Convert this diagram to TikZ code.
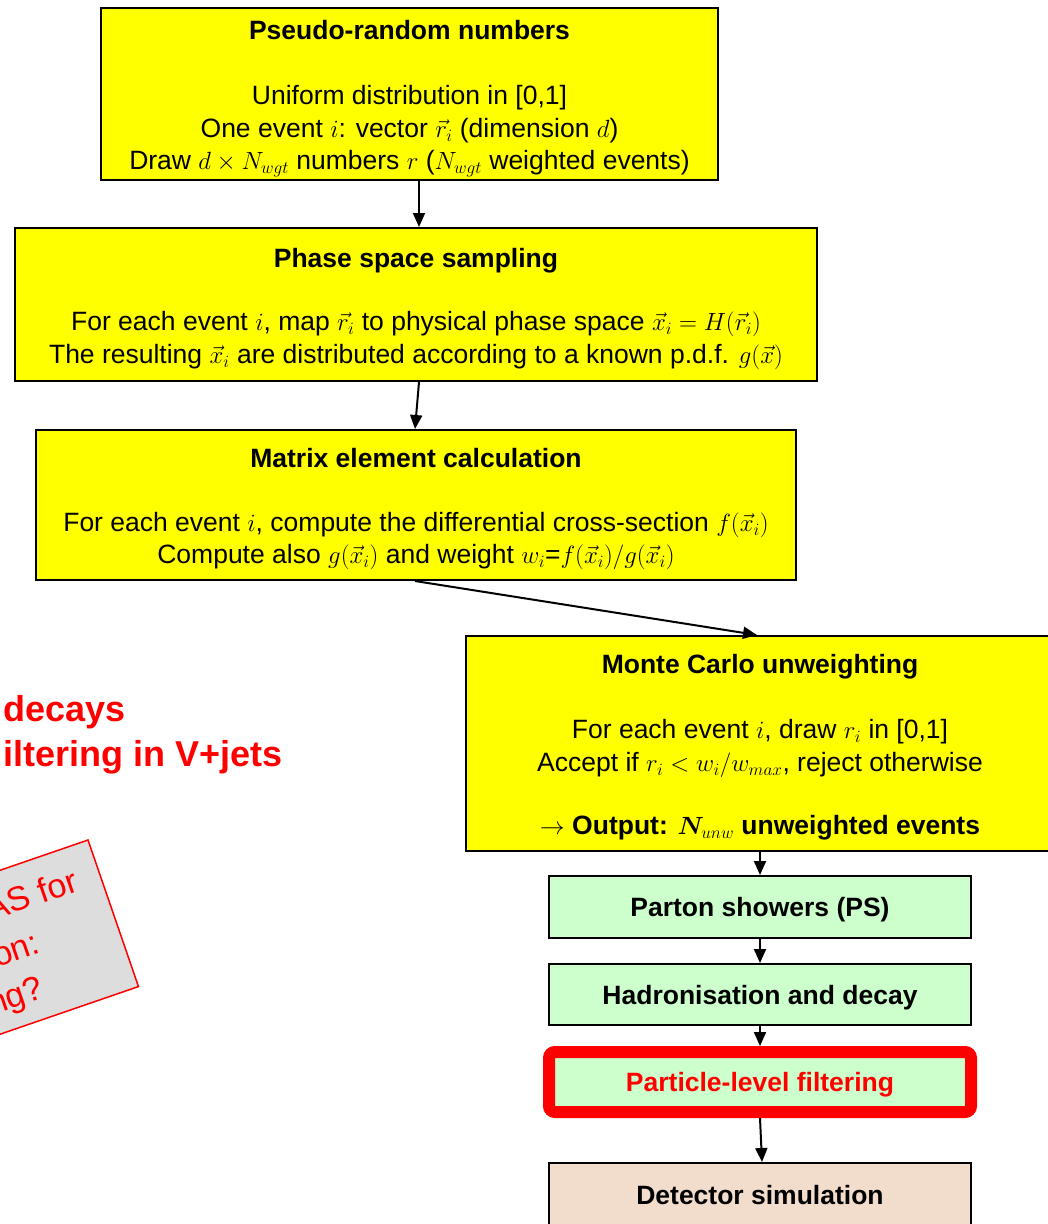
\documentclass[tikz,border=0pt]{standalone}
\usepackage{fontspec}
\setmainfont{Liberation Sans}
\usepackage{bm}
\usepackage{tikz}
\usetikzlibrary{arrows.meta,calc,positioning}

\definecolor{boxyellow}{RGB}{255,255,0}
\definecolor{psgreen}{RGB}{204,255,204}
\definecolor{detbeige}{RGB}{242,220,203}
\definecolor{notegrey}{RGB}{221,221,221}

\newcommand{\boxfont}{\fontsize{26.5}{32.5}\selectfont}
% lines of a box, set a little lower than the centre
\newcommand{\boxlines}[1]{\raisebox{-4.3pt}[\height][\depth]{\begin{tabular}{@{}c@{}}#1\end{tabular}}}

\begin{document}
\begin{tikzpicture}[x=1pt, y=-1pt,
    ybox/.style={draw, line width=2pt, fill=boxyellow, font=\boxfont, inner sep=0pt},
    gbox/.style={draw, line width=2pt, fill=psgreen, font=\boxfont\bfseries, inner sep=0pt,
        text height=19pt, text depth=0pt, minimum width=422pt, minimum height=62pt},
    flow/.style={-{Triangle[length=14pt,width=12pt]}, line width=2pt},
    remark/.style={anchor=base west, text=red, font=\fontsize{36}{40}\selectfont\bfseries, inner sep=0pt},
    notetext/.style={anchor=base east, text=red, font=\fontsize{34}{40}\selectfont, inner sep=0pt}]

    \useasboundingbox (0,0) rectangle (1048,1224);
    \clip (0,0) rectangle (1048,1224);

    % Generator chain
    \node[ybox, minimum width=617pt, minimum height=172pt] (prng) at (409.5,94) {\boxlines{%
        \textbf{Pseudo-random numbers}\\[32.5pt]
        Uniform distribution in [0,1]\\
        One event $i$: vector $\vec{r}_i$ (dimension $d$)\\
        Draw $d\times N_{wgt}$ numbers $r$ ($N_{wgt}$ weighted events)}};
    \node[ybox, minimum width=802pt, minimum height=153pt] (psp) at (416,304.5) {\boxlines{%
        \textbf{Phase space sampling}\\[31pt]
        For each event $i$, map $\vec{r}_i$ to physical phase space $\vec{x}_i=H(\vec{r}_i)$\\
        The resulting $\vec{x}_i$ are distributed according to a known p.d.f. $g(\vec{x})$}};
    \node[ybox, minimum width=760pt, minimum height=150pt] (mec) at (416,505) {\boxlines{%
        \textbf{Matrix element calculation}\\[31pt]
        For each event $i$, compute the differential cross-section $f(\vec{x}_i)$\\
        Compute also $g(\vec{x}_i)$ and weight $w_i$=$f(\vec{x}_i)/g(\vec{x}_i)$}};
    \node[ybox, minimum width=588pt, minimum height=215pt] (unw) at (760,743.5) {\boxlines{%
        \textbf{Monte Carlo unweighting}\\[32.5pt]
        For each event $i$, draw $r_i$ in [0,1]\\
        Accept if $r_i<w_i/w_{max}$, reject otherwise\\[31pt]
        $\rightarrow$ \textbf{Output: $\bm{N}_{unw}$ unweighted events}}};

    % Shower and simulation
    \node[gbox] (ps) at (760,907) {Parton showers (PS)};
    \node[gbox, minimum height=61pt] (had) at (760,994.5) {Hadronisation and decay};
    \node[gbox, draw=red, line width=12pt, rounded corners=6pt, text=red,
        minimum height=60pt] (filt) at (760,1082) {Particle-level filtering};
    \node[gbox, fill=detbeige, minimum height=63pt] (det) at (760,1194.5) {Detector simulation};

    % Arrows
    \draw[flow] ([xshift=9.5pt]prng.south) -- ([xshift=3pt]psp.north);
    \draw[flow] ([xshift=3pt]psp.south) -- ([xshift=-1pt]mec.north);
    \draw[flow] ([xshift=-1pt]mec.south) -- ([xshift=-3pt]unw.north);
    \draw[flow] (unw.south) -- (ps.north);
    \draw[flow] (ps.south) -- (had.north);
    \draw[flow] (had.south) -- (filt.north);
    \draw[flow] (filt.south) -- ([xshift=2pt]det.north);

    % Red remarks
    \node[remark] (rem1) at (3,721) {decays};
    \node[remark] (rem2) at (3,766) {iltering in V+jets};

    % Tilted note
    \begin{scope}[shift={(88,840)}, rotate=19]
        \draw[red, line width=1.5pt, fill=notegrey] (-320,0) rectangle (0,155);
        \begin{scope}[transform shape]
            \node[notetext] (note1) at (-24,45) {AS for};
            \node[notetext] (note2) at (-80,91) {on:};
            \node[notetext] (note3) at (-91,135) {ng?};
        \end{scope}
    \end{scope}
\end{tikzpicture}
\end{document}
